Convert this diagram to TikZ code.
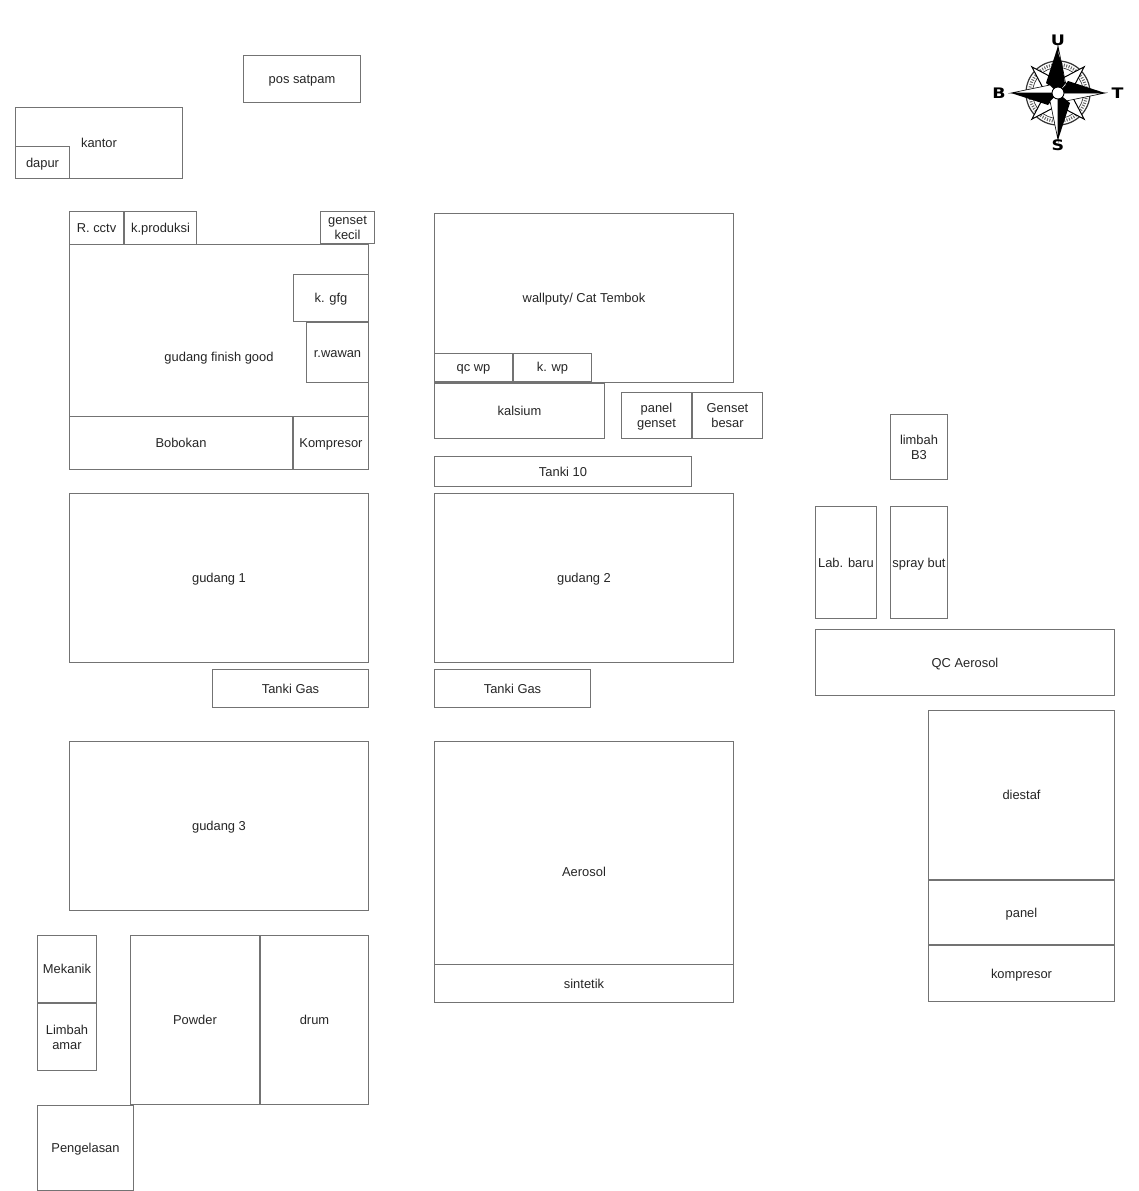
\documentclass[tikz,border=0pt]{standalone}
\usepackage{fontspec}
\setmainfont{Liberation Sans}
\newfontfamily\compassfont[FakeStretch=1.2]{DejaVu Sans}
\usetikzlibrary{calc}
\definecolor{linegray}{gray}{0.45}
\newcommand{\lstrut}{\rule[-3bp]{0pt}{15bp}}
\newcommand{\roomb}[6]{%
  \path let \n1={#2}, \n2={#3}, \n3={#4}, \n4={#5} in
    node[roombox, minimum width={(\n3-\n1)*1bp}, minimum height={(\n4-\n2)*1bp}] (#1) at ({(\n1+\n3)/2},{(\n2+\n4)/2}) {\lstrut #6\lstrut};}
\begin{document}
\begin{tikzpicture}[x=1bp,y=-1bp,
  roombox/.style={draw=linegray,line width=1bp,fill=none,inner sep=0pt,outer sep=0pt,align=center,
    font=\fontsize{12.9bp}{15bp}\selectfont,text=black!85},
  dir/.style={font=\fontsize{14.5bp}{14.5bp}\compassfont\bfseries,inner sep=0pt,text=black}]
\useasboundingbox (0,0) rectangle (1139,1191);
\fill[white] (0,0) rectangle (1139,1191);
\roomb{satpam}{243.5}{55.5}{360.5}{102.5}{pos satpam}
\roomb{kantor}{15.5}{107.5}{182.5}{178.5}{kantor}
\roomb{dapur}{15.5}{146.5}{69.5}{178.5}{dapur}
\roomb{cctv}{69.5}{211.5}{123.5}{244}{R. cctv}
\roomb{kprod}{124.5}{211.5}{196.5}{244}{k.produksi}
\roomb{gfg}{69.5}{244.5}{368.5}{469.5}{gudang finish good}
\roomb{gkecil}{320.5}{211.5}{374.5}{243.5}{genset\\\lstrut kecil}
\roomb{kgfg}{293.5}{274.5}{368.5}{321.5}{k. gfg}
\roomb{wawan}{306.5}{322.5}{368.5}{382.5}{r.wawan}
\roomb{bobokan}{69.5}{416.5}{292.5}{469.5}{Bobokan}
\roomb{kompresa}{293.5}{416.5}{368.5}{469.5}{Kompresor}
\roomb{wall}{434.5}{213.5}{733.5}{382.5}{wallputy/ Cat Tembok}
\roomb{qcwp}{434.5}{353}{512.5}{381}{qc wp}
\roomb{kwp}{513.5}{353}{591.5}{381}{k. wp}
\roomb{kalsium}{434.5}{383.5}{604.5}{438.5}{kalsium}
\roomb{pgenset}{621.5}{392.5}{691.5}{438.5}{panel\\\lstrut genset}
\roomb{gbesar}{692.5}{392.5}{762.5}{438.5}{Genset\\\lstrut besar}
\roomb{tanki}{434.5}{456.5}{691.5}{486.5}{Tanki 10}
\roomb{limbahb}{890.5}{414.5}{947.5}{479.5}{limbah\\\lstrut B3}
\roomb{gsatu}{69.5}{493.5}{368.5}{662.5}{gudang 1}
\roomb{gdua}{434.5}{493.5}{733.5}{662.5}{gudang 2}
\roomb{lab}{815.5}{506.5}{876.5}{618.5}{Lab. baru}
\roomb{spray}{890.5}{506.5}{947.5}{618.5}{spray but}
\roomb{qc}{815.5}{629.5}{1114.5}{695.5}{QC Aerosol}
\roomb{tgasa}{212.5}{669.5}{368.5}{707.5}{Tanki Gas}
\roomb{tgasb}{434.5}{669.5}{590.5}{707.5}{Tanki Gas}
\roomb{diestaf}{928.5}{710.5}{1114.5}{879.5}{diestaf}
\roomb{panel}{928.5}{880.5}{1114.5}{944.5}{panel}
\roomb{kompresb}{928.5}{945.5}{1114.5}{1001.5}{kompresor}
\roomb{gtiga}{69.5}{741.5}{368.5}{910.5}{gudang 3}
\roomb{aerosol}{434.5}{741.5}{733.5}{1002.5}{Aerosol}
\roomb{sintetik}{434.5}{964.5}{733.5}{1002.5}{sintetik}
\roomb{mekanik}{37.5}{935.5}{96.5}{1002.5}{Mekanik}
\roomb{limbah}{37.5}{1003.5}{96.5}{1070.5}{Limbah\\\lstrut amar}
\roomb{powder}{130.5}{935.5}{259.5}{1104.5}{Powder}
\roomb{drum}{260.5}{935.5}{368.5}{1104.5}{drum}
\roomb{las}{37.5}{1105.5}{133.5}{1190.5}{Pengelasan}
% compass
\begin{scope}[shift={(1058,93)}]
  \draw[black!80,line width=1.2bp] (0,0) circle (32);
  \draw[black!60,line width=3bp,dash pattern=on 1bp off 1.5bp] (0,0) circle (28.5);
  \draw[black!80,line width=0.7bp] (0,0) circle (25.5);
  \foreach \a in {45,135,225,315}{
    \begin{scope}[rotate=\a]
      \fill[white,draw=black,line width=1bp] (8,-9) -- (37,0) -- (8,9) -- (0,0) -- cycle;
    \end{scope}}
  \foreach \a in {0,90,180,270}{
    \begin{scope}[rotate=\a]
      \fill[white,draw=black,line width=0.6bp] (0,0) -- (8,8) -- (47,0) -- cycle;
      \fill[black] (0,0) -- (10,-12) -- (47,0) -- cycle;
    \end{scope}}
  \begin{scope}[rotate=90]
    \fill[black] (0,0) -- (9,7) -- (30,4) -- (40,0) -- cycle;
  \end{scope}
  \fill[white,draw=black,line width=0.9bp] (0,0) circle (6);
\end{scope}
\node[dir] (u) at (1058,40.5) {U};
\node[dir] (s) at (1058,145.5) {S};
\node[dir] (b) at (999,93) {B};
\node[dir] (t) at (1117.5,93) {T};
\end{tikzpicture}
\end{document}
